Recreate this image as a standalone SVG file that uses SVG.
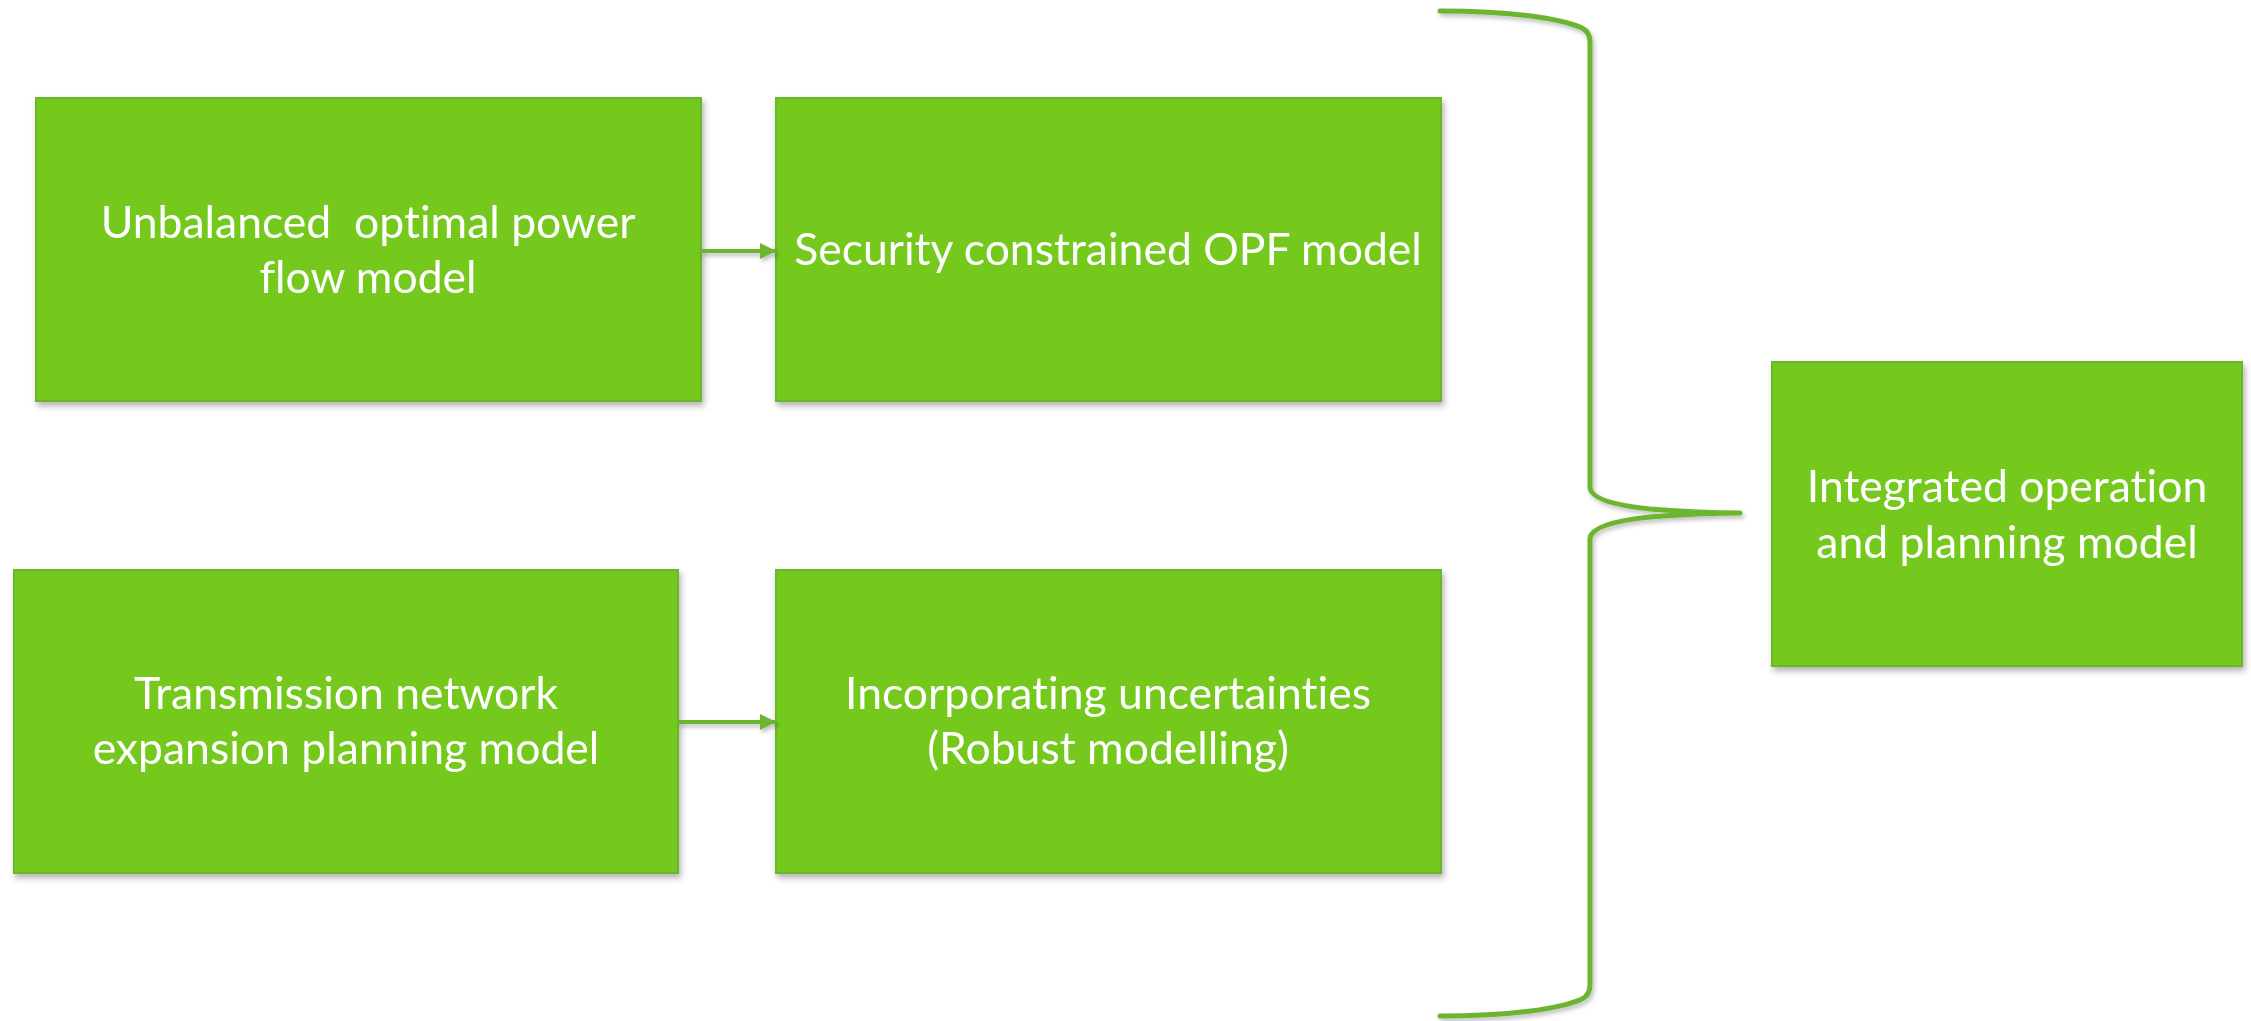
<svg xmlns="http://www.w3.org/2000/svg" width="2251" height="1021" viewBox="0 0 2251 1021">
  <defs>
    <filter id="shadow" x="-5%" y="-5%" width="115%" height="120%">
      <feDropShadow dx="2" dy="4" stdDeviation="3" flood-color="#000" flood-opacity="0.3"/>
    </filter>
    <filter id="lineShadow" x="-10%" y="-10%" width="130%" height="130%">
      <feDropShadow dx="2" dy="3" stdDeviation="2" flood-color="#000" flood-opacity="0.25"/>
    </filter>
    <marker id="arrow" viewBox="0 0 16 16" refX="16" refY="8" markerWidth="16" markerHeight="16" markerUnits="userSpaceOnUse" orient="auto">
      <path d="M0,0 L16,8 L0,16 Z" fill="#6cb52e"/>
    </marker>
  </defs>
  <style>
    .box { fill: #74c91f; stroke: #6cb52e; stroke-width: 2; }
    .label { font-family: Lato, "Liberation Sans", sans-serif; font-size: 44.5px; fill: #ffffff; text-anchor: middle; white-space: pre; font-variant-ligatures: none; }
    .conn { fill: none; stroke: #6cb52e; stroke-width: 4; }
    .brace { fill: none; stroke: #6cb52e; stroke-width: 5; stroke-linecap: round; stroke-linejoin: round; }
  </style>
  <rect width="2251" height="1021" fill="#ffffff"/>

  <g id="node-unbalanced-opf" filter="url(#shadow)">
    <rect class="box" x="36" y="98" width="665" height="303"/>
    <text class="label" x="368" y="238">Unbalanced  optimal power</text>
    <text class="label" x="368" y="293">flow model</text>
  </g>

  <g id="node-security-opf" filter="url(#shadow)">
    <rect class="box" x="776" y="98" width="665" height="303"/>
    <text class="label" x="1108" y="265">Security constrained OPF model</text>
  </g>

  <g id="node-tnep" filter="url(#shadow)">
    <rect class="box" x="14" y="570" width="664" height="303"/>
    <text class="label" x="346" y="709">Transmission network</text>
    <text class="label" x="346" y="764">expansion planning model</text>
  </g>

  <g id="node-uncertainties" filter="url(#shadow)">
    <rect class="box" x="776" y="570" width="665" height="303"/>
    <text class="label" x="1108" y="709">Incorporating uncertainties</text>
    <text class="label" x="1108" y="764">(Robust modelling)</text>
  </g>

  <g id="node-integrated" filter="url(#shadow)">
    <rect class="box" x="1772" y="362" width="470" height="304"/>
    <text class="label" x="2007" y="502">Integrated operation</text>
    <text class="label" x="2007" y="558">and planning model</text>
  </g>

  <g id="connectors">
    <g filter="url(#lineShadow)">
      <line class="conn" x1="701" y1="251" x2="776" y2="251" marker-end="url(#arrow)"/>
      <line class="conn" x1="678" y1="722" x2="776" y2="722" marker-end="url(#arrow)"/>
    </g>
    <path class="brace" filter="url(#lineShadow)"
          d="M1440,11 C1510,11 1560,18 1582,28 Q1590,32 1590,42 L1590,488 Q1592,503 1650,509 Q1700,513 1740,513 Q1700,513 1650,517 Q1592,523 1590,538 L1590,985 Q1590,995 1582,999 C1560,1009 1510,1016 1440,1016"/>
  </g>
</svg>
